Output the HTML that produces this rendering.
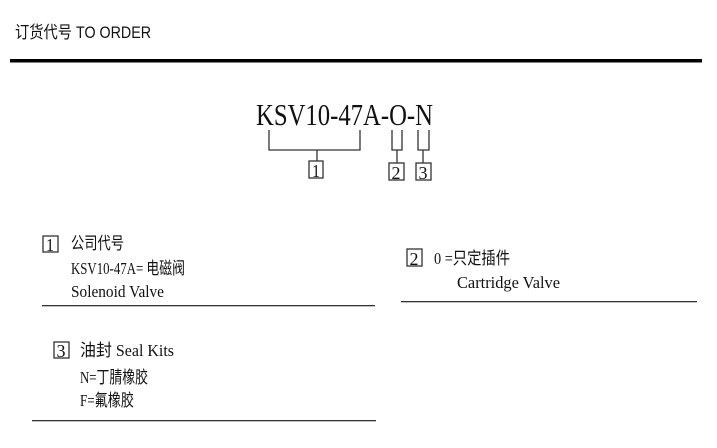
<!DOCTYPE html>
<html><head><meta charset="utf-8"><style>body{margin:0;background:#fff}svg{display:block}</style></head><body>
<svg width="717" height="448" xmlns="http://www.w3.org/2000/svg" font-family="'Liberation Serif','Noto Sans CJK SC',serif" fill="#111">
<text x="15" y="38" font-size="17" font-family="'Liberation Sans','Noto Sans CJK SC',sans-serif" textLength="136" lengthAdjust="spacingAndGlyphs">订货代号 TO ORDER</text>
<rect x="10" y="59" width="692" height="3.5" fill="#000"/>
<text x="256" y="125" font-size="31" textLength="177" lengthAdjust="spacingAndGlyphs">KSV10-47A-O-N</text>
<g stroke="#333" stroke-width="1.3" fill="none">
<path d="M269 130V150H360V130M317 150V161"/>
<rect x="309" y="161" width="14" height="17"/>
<path d="M392 130V150H402V130M397 150V163"/>
<rect x="389" y="163" width="15" height="17"/>
<path d="M418 130V150H429V130M423 150V163"/>
<rect x="416" y="163" width="15" height="17"/>
<rect x="43" y="236" width="15" height="16"/>
<rect x="54" y="342" width="15" height="16"/>
<rect x="407" y="249" width="15" height="17"/>
</g>
<g font-size="18" text-anchor="middle"><text x="316" y="177" textLength="8" lengthAdjust="spacingAndGlyphs">1</text><text x="396" y="179" textLength="9" lengthAdjust="spacingAndGlyphs">2</text><text x="423" y="179" textLength="9" lengthAdjust="spacingAndGlyphs">3</text>
<text x="50" y="251" textLength="8" lengthAdjust="spacingAndGlyphs">1</text><text x="61" y="357" textLength="9" lengthAdjust="spacingAndGlyphs">3</text><text x="414" y="265" textLength="9" lengthAdjust="spacingAndGlyphs">2</text></g>
<g font-size="17">
<text x="71" y="249" textLength="53" lengthAdjust="spacingAndGlyphs">公司代号</text>
<text x="71" y="274" textLength="114" lengthAdjust="spacingAndGlyphs">KSV10-47A= 电磁阀</text>
<text x="71" y="297" textLength="93" lengthAdjust="spacingAndGlyphs">Solenoid Valve</text>
<text x="80" y="356" textLength="94" lengthAdjust="spacingAndGlyphs">油封 Seal Kits</text>
<text x="80" y="383" textLength="68" lengthAdjust="spacingAndGlyphs">N=丁腈橡胶</text>
<text x="80" y="406" textLength="54" lengthAdjust="spacingAndGlyphs">F=氟橡胶</text>
<text x="434" y="264" textLength="76" lengthAdjust="spacingAndGlyphs">0 =只定插件</text>
<text x="457" y="288" textLength="103" lengthAdjust="spacingAndGlyphs">Cartridge Valve</text>
</g>
<rect x="42" y="305" width="333" height="1.3" fill="#333"/>
<rect x="32" y="420" width="344" height="1.3" fill="#333"/>
<rect x="401" y="301" width="296" height="1.3" fill="#333"/>
</svg>
</body></html>
